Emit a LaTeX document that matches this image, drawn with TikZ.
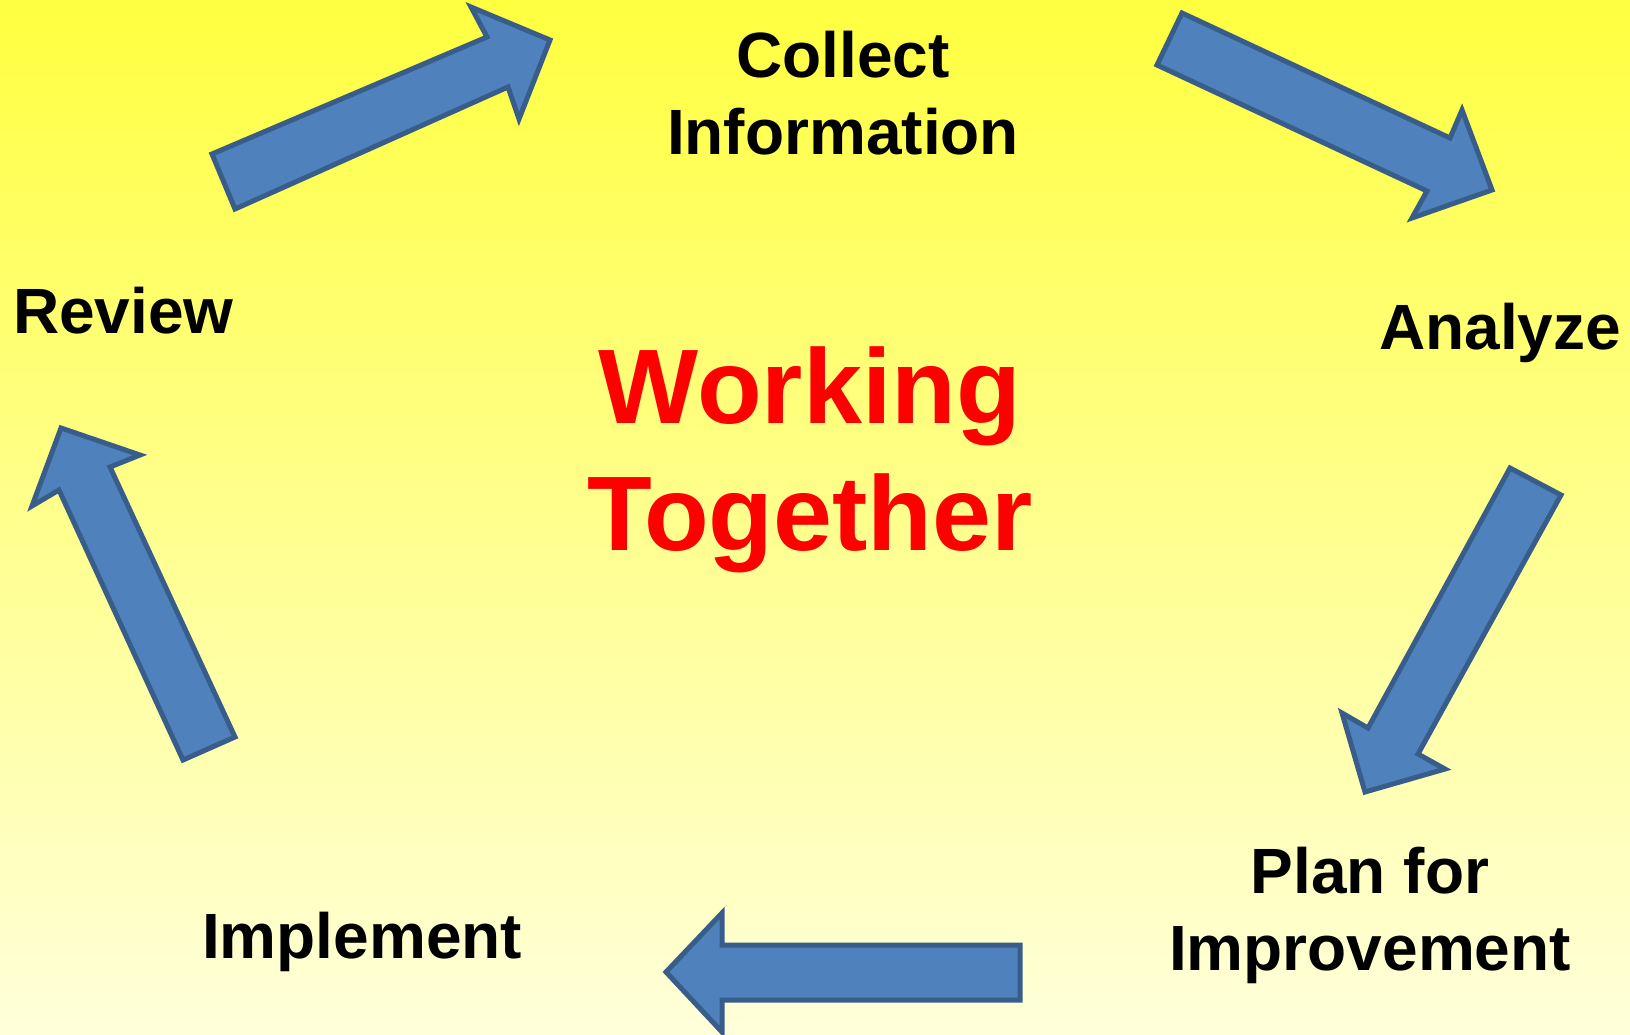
\documentclass[tikz,border=0pt]{standalone}
\usepackage{fontspec}
\setmainfont{Liberation Sans}
\usepackage{xcolor}
\usepackage{tikz}

\definecolor{bgtop}{HTML}{FFFF40}
\definecolor{bgbot}{HTML}{FFFFDA}
\definecolor{arrfill}{HTML}{4F81BD}
\definecolor{arrline}{HTML}{385D8A}

\begin{document}
\begin{tikzpicture}[x=1pt,y=-1pt]
        \tikzset{blockarr/.style={fill=arrfill,draw=arrline,line width=5pt,line join=miter},
        steplabel/.style={font=\fontsize{64}{77}\selectfont\bfseries,inner sep=0pt,align=center},
        mainlabel/.style={font=\fontsize{106}{127}\selectfont\bfseries,text=red,inner sep=0pt,align=center}}

        % background
        \shade[top color=bgtop,bottom color=bgbot] (0,0) rectangle (1630,1034);
        \useasboundingbox (0,0) rectangle (1630,1034);

        % labels (base = last line)
        \node[steplabel,anchor=base] (collect) at (843,154) {Collect\\Information};
        \node[steplabel,anchor=base west] (analyze) at (1379,349) {Analyze};
        \node[steplabel,anchor=base] (plan) at (1370,970) {Plan for\\Improvement};
        \node[steplabel,anchor=base west] (implement) at (202,958) {Implement};
        \node[steplabel,anchor=base west] (review) at (13,333) {Review};

        % centre
        \node[mainlabel,anchor=base] (working) at (810,550) {Working\\Together};

        % arrows
        % review to collect
        \draw[blockarr] (212,154) -- (487,37) -- (471,7) -- (550,40) -- (519,119)
            -- (508,87) -- (235,209) -- cycle;
        % collect to analyze
        \draw[blockarr] (1182,13) -- (1450,138) -- (1462,110) -- (1492,190) -- (1412,218)
            -- (1427,191) -- (1157,65) -- cycle;
        % analyze to plan
        \draw[blockarr] (1510,468) -- (1561,495) -- (1418,754) -- (1445,769) -- (1365,792)
            -- (1342,713) -- (1368,728) -- cycle;
        % plan to implement
        \draw[blockarr] (1020,945) -- (722,945) -- (722,913) -- (666,972) -- (722,1032)
            -- (722,1000) -- (1020,1000) -- cycle;
        % implement to review
        \draw[blockarr] (183,760) -- (59,490) -- (32,506) -- (61,428) -- (140,455)
            -- (110,467) -- (235,737) -- cycle;
    \end{tikzpicture}
\end{document}
